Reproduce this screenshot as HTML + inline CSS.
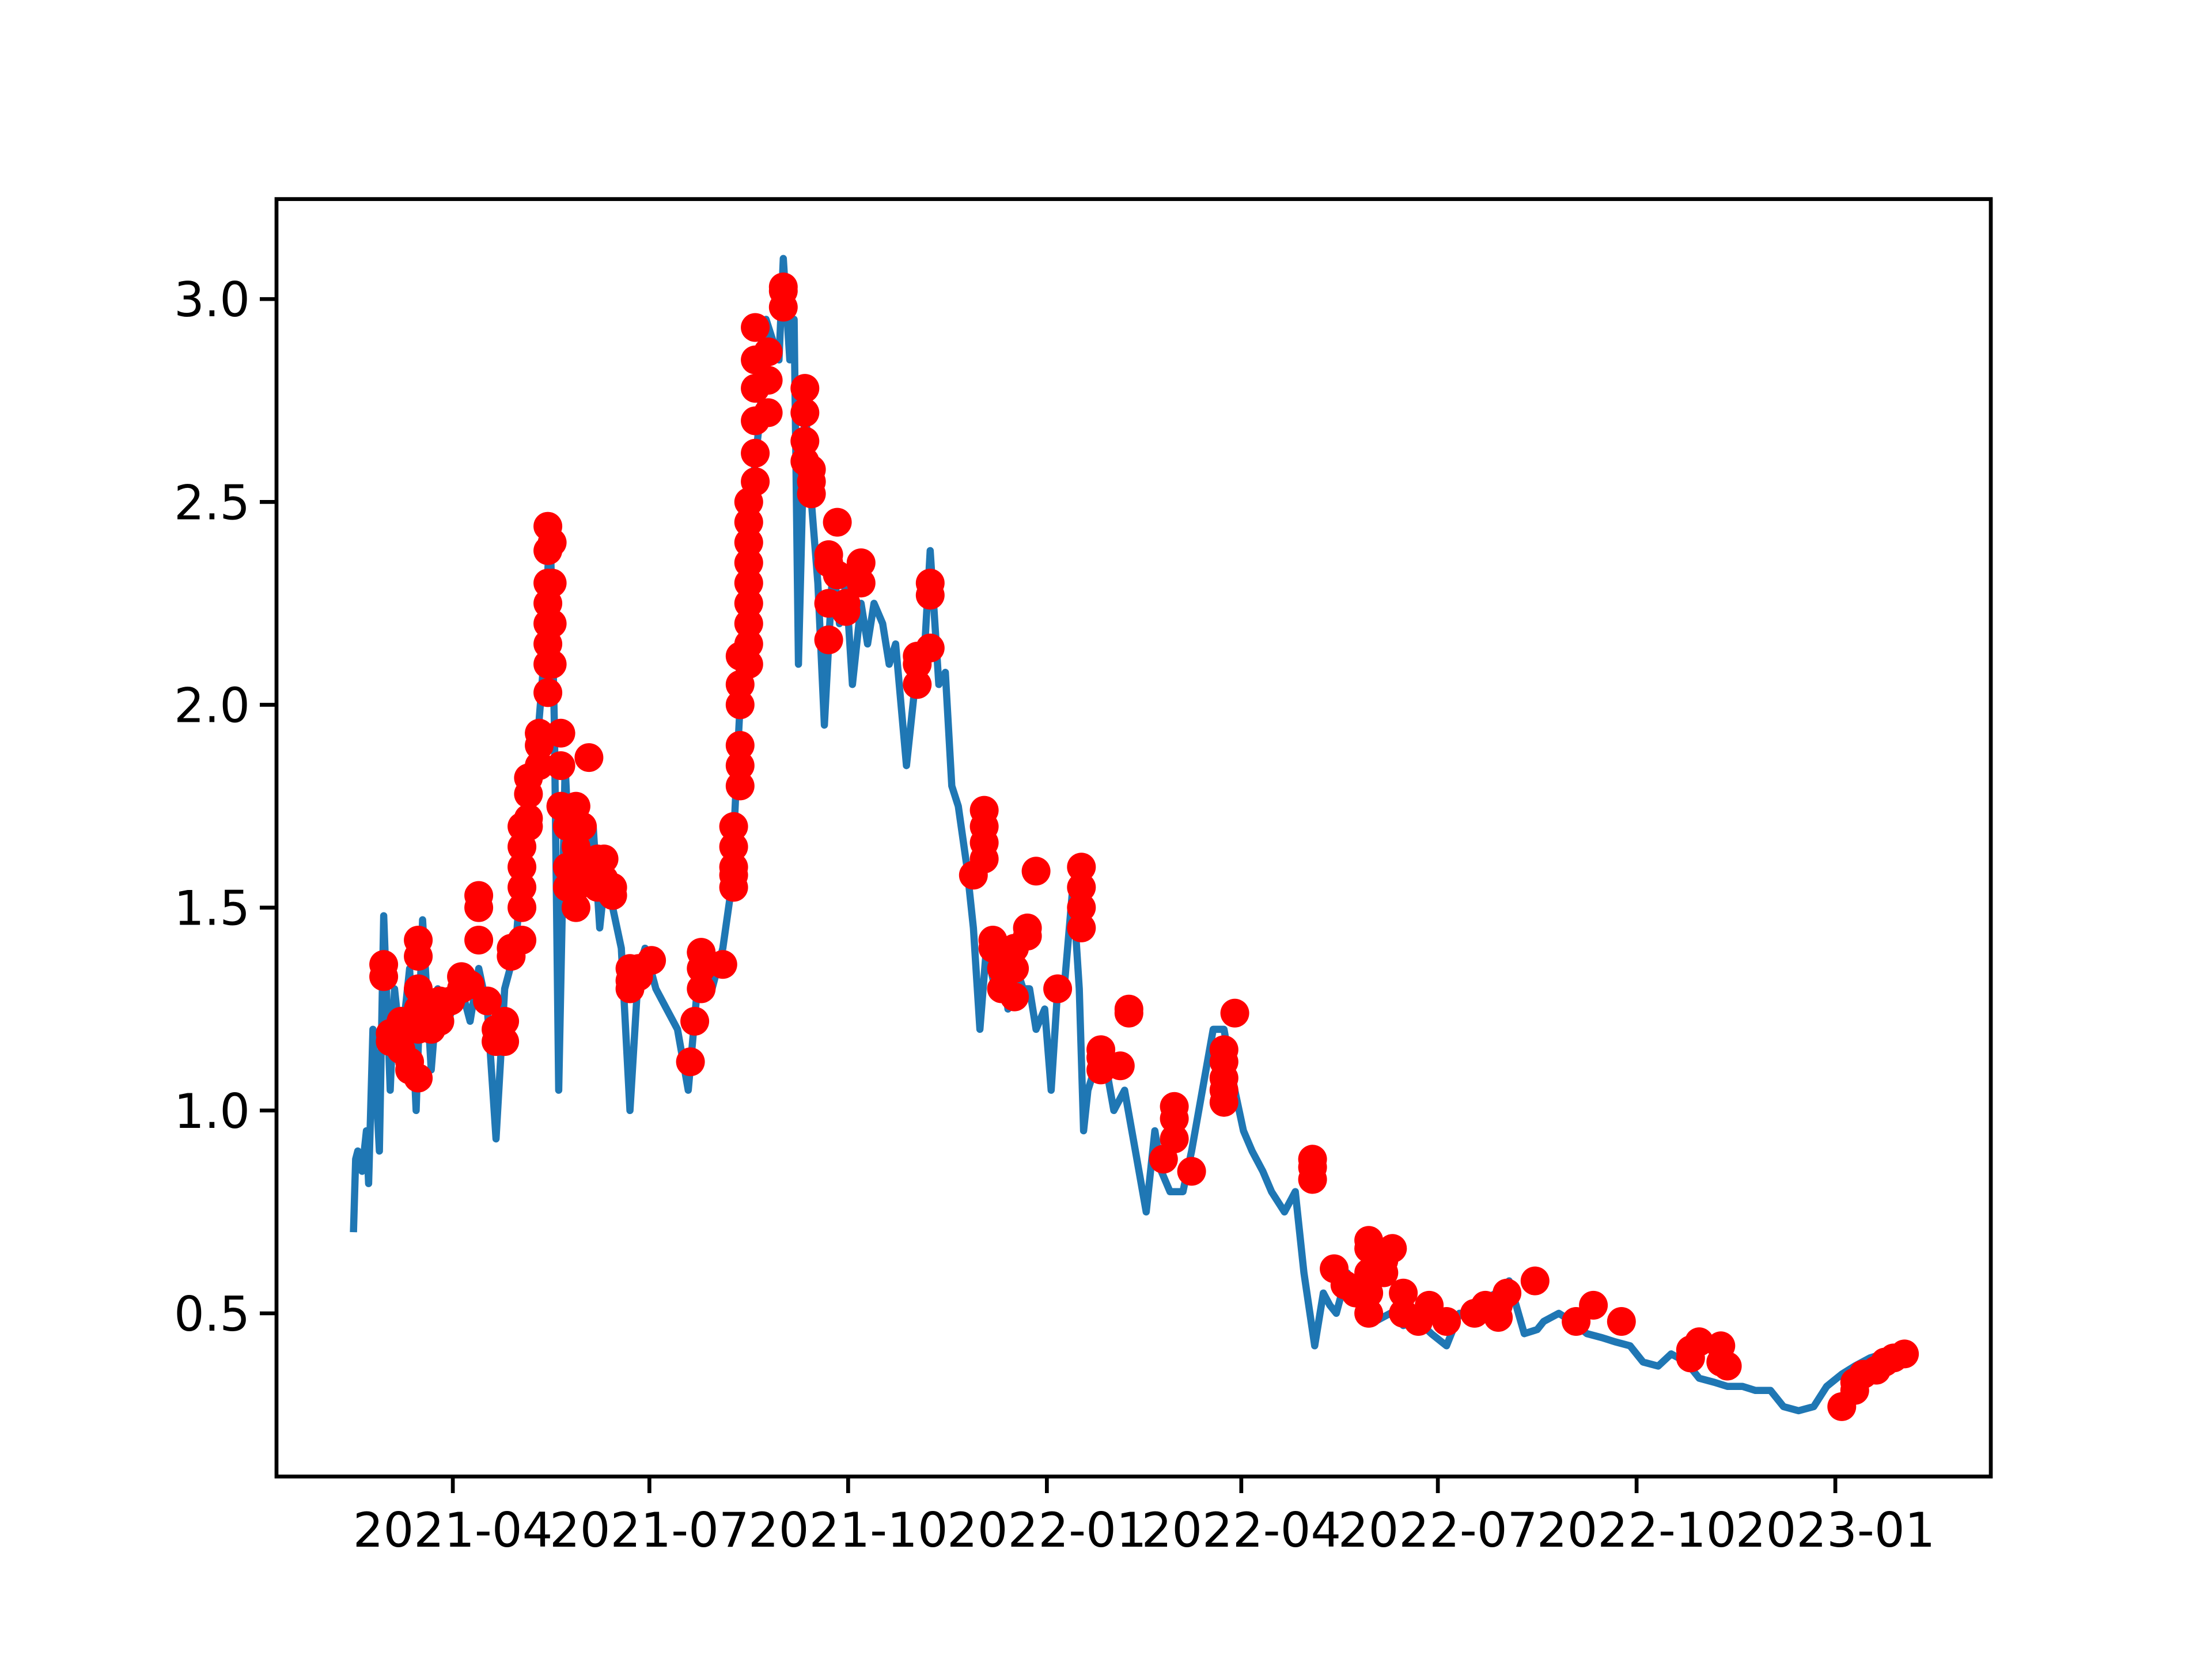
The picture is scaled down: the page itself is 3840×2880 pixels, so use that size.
<!DOCTYPE html>
<html><head><meta charset="utf-8"><style>
html,body{margin:0;padding:0;background:#fff;}
svg{display:block;}
</style></head><body>
<svg id="chart" width="3840" height="2880" viewBox="0 0 3840 2880" xmlns="http://www.w3.org/2000/svg" font-family="DejaVu Sans, Liberation Sans, sans-serif">
<rect width="3840" height="2880" fill="#fff"/>
<g id="marks"></g>
<rect x="480" y="345.6" width="2976" height="2217.6" fill="none" stroke="#000" stroke-width="6.7"/>
<g id="axes"></g>
</svg>
<script>
// day offsets from 2021-04-01
const lineDays = [-46,-45,-44,-42,-40,-39,-37,-34,-32,-29,-27,-24,-20,-17,-14,-10,-7,-4,0,4,8,12,16,20,24,29,32,35,39,42,45,47,49,52,55,58,61,65,68,71,74,78,82,86,89,94,99,104,109,114,120,125,129,132,135,138,142,145,148,151,153,156,158,160,163,166,169,172,176,179,182,185,189,192,195,199,202,205,210,214,218,221,225,228,231,234,238,241,244,247,251,254,257,261,264,267,270,274,277,280,283,287,290,292,294,297,301,306,311,316,321,325,328,332,338,342,347,352,357,362,366,370,375,379,385,390,394,399,403,406,409,414,421,427,434,440,447,453,460,466,470,476,483,489,496,502,505,512,518,525,532,538,545,551,558,564,571,577,584,590,597,603,610,616,623,630,636,643,649,656,662,669,675];
const lineVals = [0.70,0.88,0.90,0.85,0.95,0.82,1.20,0.90,1.48,1.05,1.30,1.15,1.35,1.00,1.47,1.10,1.30,1.20,1.25,1.30,1.22,1.35,1.25,0.93,1.30,1.40,1.60,1.75,1.90,2.10,2.45,1.95,1.05,1.85,1.50,1.75,1.55,1.70,1.45,1.60,1.50,1.40,1.00,1.35,1.40,1.30,1.25,1.20,1.05,1.35,1.30,1.40,1.55,1.90,2.20,2.50,2.70,2.95,2.90,2.85,3.10,2.85,2.95,2.10,2.75,2.50,2.30,1.95,2.35,2.20,2.30,2.05,2.25,2.15,2.25,2.20,2.10,2.15,1.85,2.05,2.10,2.38,2.05,2.08,1.80,1.75,1.60,1.45,1.20,1.40,1.30,1.40,1.25,1.35,1.30,1.30,1.20,1.25,1.05,1.30,1.30,1.55,1.30,0.95,1.05,1.10,1.15,1.00,1.05,0.90,0.75,0.95,0.85,0.80,0.80,0.90,1.05,1.20,1.20,1.05,0.95,0.90,0.85,0.80,0.75,0.80,0.60,0.42,0.55,0.52,0.50,0.60,0.55,0.48,0.50,0.47,0.48,0.45,0.42,0.50,0.50,0.53,0.55,0.58,0.45,0.46,0.48,0.50,0.48,0.45,0.44,0.43,0.42,0.38,0.37,0.40,0.38,0.34,0.33,0.32,0.32,0.31,0.31,0.27,0.26,0.27,0.32,0.35,0.37,0.39,0.40];
const markDays = [-32,-32,-29,-29,-24,-24,-24,-20,-20,-16,-16,-16,-16,-16,-16,-10,-10,-6,-6,-1,4,4,8,12,12,12,16,20,20,24,24,27,27,32,32,32,32,32,32,35,35,35,35,40,40,40,44,44,44,44,44,44,44,44,46,46,46,46,50,50,50,53,53,53,57,57,57,57,60,60,63,67,67,70,70,74,74,82,82,82,86,86,92,110,112,115,115,115,125,130,130,130,130,130,133,133,133,133,133,133,137,137,137,137,137,137,137,137,137,140,140,140,140,140,140,146,146,146,153,153,153,163,163,163,163,166,166,166,174,174,174,174,178,178,182,182,189,189,215,215,215,221,221,221,241,246,246,246,246,250,250,254,254,260,260,260,266,266,270,280,291,291,291,291,300,300,300,309,313,313,329,334,334,334,342,357,357,357,357,357,362,398,398,398,408,413,418,424,424,424,424,424,431,431,435,440,440,447,452,460,473,478,484,484,488,501,520,528,541,573,573,577,587,587,590,643,649,649,653,659,663,667,672];
const markVals = [1.33,1.36,1.17,1.19,1.20,1.22,1.15,1.12,1.10,1.08,1.42,1.38,1.30,1.25,1.20,1.25,1.20,1.22,1.27,1.27,1.33,1.30,1.31,1.42,1.50,1.53,1.27,1.20,1.17,1.17,1.22,1.38,1.40,1.42,1.50,1.55,1.60,1.65,1.70,1.72,1.78,1.82,1.70,1.85,1.90,1.93,2.03,2.10,2.20,2.30,2.38,2.44,2.15,2.25,2.40,2.30,2.20,2.10,1.93,1.85,1.75,1.70,1.55,1.60,1.75,1.65,1.55,1.50,1.60,1.70,1.87,1.55,1.62,1.57,1.62,1.55,1.53,1.35,1.30,1.32,1.33,1.35,1.37,1.12,1.22,1.30,1.35,1.39,1.36,1.55,1.60,1.65,1.70,1.58,1.80,1.85,1.90,2.00,2.05,2.12,2.15,2.25,2.35,2.45,2.50,2.40,2.30,2.20,2.10,2.55,2.62,2.70,2.78,2.85,2.93,2.72,2.80,2.87,2.98,3.02,3.03,2.78,2.72,2.65,2.60,2.55,2.58,2.52,2.16,2.25,2.35,2.37,2.45,2.32,2.23,2.25,2.35,2.30,2.05,2.10,2.12,2.14,2.27,2.30,1.58,1.62,1.66,1.70,1.74,1.42,1.40,1.35,1.30,1.28,1.35,1.40,1.45,1.43,1.59,1.30,1.45,1.50,1.55,1.60,1.10,1.13,1.15,1.11,1.24,1.25,0.88,0.93,0.98,1.01,0.85,1.02,1.05,1.08,1.12,1.15,1.24,0.83,0.86,0.88,0.61,0.57,0.55,0.50,0.55,0.60,0.66,0.68,0.60,0.63,0.66,0.50,0.55,0.48,0.52,0.48,0.50,0.52,0.49,0.52,0.55,0.58,0.48,0.52,0.48,0.39,0.41,0.43,0.38,0.42,0.37,0.27,0.33,0.31,0.35,0.36,0.38,0.39,0.40];
const yTicks = [0.5,1.0,1.5,2.0,2.5,3.0];
const yTickLabels = ["0.5","1.0","1.5","2.0","2.5","3.0"];
const xTickDays = [0,91,183,275,365,456,548,640];
const xTickLabels = ["2021-04","2021-07","2021-10","2022-01","2022-04","2022-07","2022-10","2023-01"];

const NS = "http://www.w3.org/2000/svg";
function xs(d){ return 786.1 + d*3.750; }
function ys(v){ return 519.2 + (3.0 - v)*704.3; }
const marks = document.getElementById('marks');
const axes = document.getElementById('axes');

let dstr = "";
for (let i=0;i<lineDays.length;i++){ dstr += (i?"L":"M") + xs(lineDays[i]).toFixed(1) + "," + ys(lineVals[i]).toFixed(1); }
const path = document.createElementNS(NS,'path');
path.setAttribute('d', dstr);
path.setAttribute('fill','none');
path.setAttribute('stroke','#1f77b4');
path.setAttribute('stroke-width','12.5');
path.setAttribute('stroke-linejoin','round');


marks.appendChild(path);

for (let i=0;i<markDays.length;i++){
  const c = document.createElementNS(NS,'circle');
  c.setAttribute('cx', xs(markDays[i]).toFixed(1));
  c.setAttribute('cy', ys(markVals[i]).toFixed(1));
  c.setAttribute('r','25');
  c.setAttribute('fill','#ff0000');
  
  
  marks.appendChild(c);
}

for (let i=0;i<yTicks.length;i++){
  const y = ys(yTicks[i]);
  const t = document.createElementNS(NS,'line');
  t.setAttribute('x1',480); t.setAttribute('x2',451); t.setAttribute('y1',y); t.setAttribute('y2',y);
  t.setAttribute('stroke','#000'); t.setAttribute('stroke-width','6.7');
  
  
  axes.appendChild(t);
  const tx = document.createElementNS(NS,'text');
  tx.setAttribute('x',434); tx.setAttribute('y',y+30);
  tx.setAttribute('text-anchor','end'); tx.setAttribute('font-size','83');
  tx.textContent = yTickLabels[i];
  
  
  axes.appendChild(tx);
}
for (let i=0;i<xTickDays.length;i++){
  const x = xs(xTickDays[i]);
  const t = document.createElementNS(NS,'line');
  t.setAttribute('x1',x); t.setAttribute('x2',x); t.setAttribute('y1',2563); t.setAttribute('y2',2592);
  t.setAttribute('stroke','#000'); t.setAttribute('stroke-width','6.7');
  
  
  axes.appendChild(t);
  const tx = document.createElementNS(NS,'text');
  tx.setAttribute('x',x); tx.setAttribute('y',2685);
  tx.setAttribute('text-anchor','middle'); tx.setAttribute('font-size','83');
  tx.textContent = xTickLabels[i];
  
  
  axes.appendChild(tx);
}
</script>
</body></html>
